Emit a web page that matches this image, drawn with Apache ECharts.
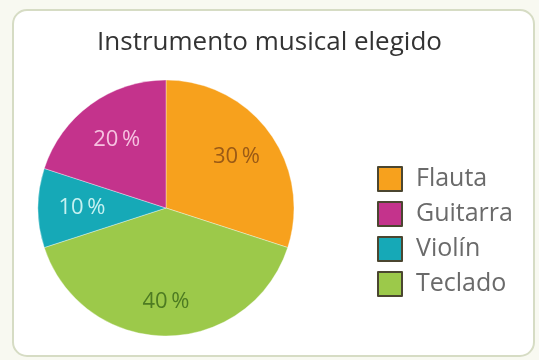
<!DOCTYPE html>
<html>
<head>
<meta charset="utf-8">
<script src="https://cdn.jsdelivr.net/npm/echarts@6/dist/echarts.min.js"></script>
<style>
html,body{margin:0;padding:0;background:#f8f9f1;}
#chart{width:539px;height:360px;}
</style>
</head>
<body>
<div id="chart"></div>
<script>
// ---- data ----
const title = 'Instrumento musical elegido';
const categories = ['Flauta', 'Guitarra', 'Violín', 'Teclado'];   // legend order
const values = [30, 20, 10, 40];                                   // percent
const sliceOrder = ['Flauta', 'Teclado', 'Violín', 'Guitarra'];   // clockwise from top

// ---- styles ----
const sliceColors = { 'Flauta': '#F7A11D', 'Guitarra': '#C4338C', 'Violín': '#16A9B7', 'Teclado': '#9CC94A' };
const labelColors = { 'Flauta': '#9a5a16', 'Guitarra': '#f6c2e0', 'Violín': '#c6f1f1', 'Teclado': '#4d7b22' };
const labelRadius = { 'Flauta': 87, 'Guitarra': 84, 'Violín': 84, 'Teclado': 94 };
const pieCenter = [166, 208];
const pieR = 128;

const valueOf = {};
categories.forEach((c, i) => { valueOf[c] = values[i]; });

const pieData = sliceOrder.map(name => ({
  name: name,
  value: valueOf[name],
  itemStyle: { color: sliceColors[name] },
  label: { color: labelColors[name] }
}));

const chart = echarts.init(document.getElementById('chart'), null, { renderer: 'canvas' });
chart.setOption({
  animation: false,
  backgroundColor: '#f8f9f1',
  graphic: [{
    type: 'rect',
    shape: { x: 13, y: 10, width: 521, height: 346, r: 14 },
    style: { fill: '#ffffff', stroke: '#d6dcc4', lineWidth: 2 },
    z: -10
  }],
  title: {
    text: title,
    left: 'center',
    top: 25,
    textStyle: { fontFamily: 'Open Sans', fontWeight: 'normal', fontSize: 26, color: '#333333' }
  },
  legend: {
    orient: 'vertical',
    left: 372,
    top: 161,
    itemWidth: 24,
    itemHeight: 24,
    itemGap: 9,
    icon: 'rect',
    data: categories,
    itemStyle: { borderColor: '#4b4630', borderWidth: 2 },
    textStyle: { fontFamily: 'Open Sans', fontSize: 25, lineHeight: 24, color: '#6a6a6a', padding: [0, 0, 0, 9] }
  },
  series: [{
    type: 'pie',
    center: pieCenter,
    radius: [0, pieR],
    startAngle: 90,
    clockwise: true,
    data: pieData,
    itemStyle: { borderColor: 'rgba(255,255,255,0.6)', borderWidth: 0.6 },
    label: {
      show: true,
      position: 'inside',
      formatter: '{c}\u2009%',
      fontFamily: 'Open Sans',
      fontSize: 22
    },
    labelLine: { show: false },
    labelLayout: function (p) {
      const r = p.labelRect;
      const lx = r.x + r.width / 2, ly = r.y + r.height / 2;
      const dx = lx - pieCenter[0], dy = ly - pieCenter[1];
      const d = Math.sqrt(dx * dx + dy * dy) || 1;
      const R = labelRadius[sliceOrder[p.dataIndex]];
      return { x: pieCenter[0] + dx / d * R, y: pieCenter[1] + dy / d * R };
    }
  }]
});
</script>
</body>
</html>
